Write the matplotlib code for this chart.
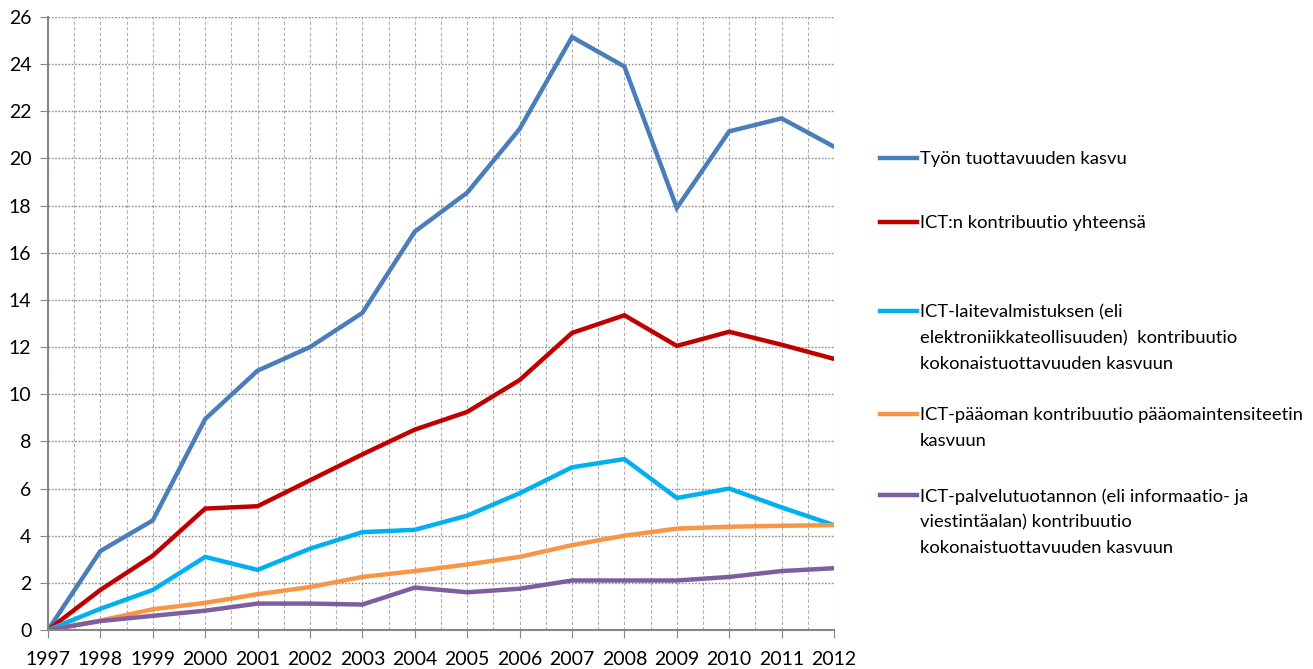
import numpy as np
import matplotlib.pyplot as plt
from matplotlib.lines import Line2D

plt.rcParams['font.family'] = ['Lato', 'DejaVu Sans']

years = list(range(1997, 2013))

tyon_tuottavuus = [0, 3.35, 4.65, 8.95, 11.0, 12.0, 13.45, 16.9, 18.55, 21.25,
                   25.15, 23.9, 17.9, 21.15, 21.7, 20.5]
ict_yhteensa = [0, 1.7, 3.15, 5.15, 5.25, 6.35, 7.45, 8.5, 9.25, 10.6,
                12.6, 13.35, 12.05, 12.65, 12.1, 11.5]
ict_laite = [0, 0.9, 1.7, 3.1, 2.55, 3.45, 4.15, 4.25, 4.85, 5.8,
             6.9, 7.25, 5.6, 6.0, 5.2, 4.45]
ict_paaoma = [0, 0.4, 0.88, 1.15, 1.52, 1.82, 2.25, 2.5, 2.78, 3.1,
              3.6, 4.0, 4.3, 4.38, 4.42, 4.45]
ict_palvelu = [0, 0.38, 0.6, 0.82, 1.12, 1.12, 1.08, 1.8, 1.6, 1.75,
               2.1, 2.1, 2.1, 2.25, 2.5, 2.62]

labels = [
    'Työn tuottavuuden kasvu',
    'ICT:n kontribuutio yhteensä',
    'ICT-laitevalmistuksen (eli\nelektroniikkateollisuuden)  kontribuutio\nkokonaistuottavuuden kasvuun',
    'ICT-pääoman kontribuutio pääomaintensiteetin\nkasvuun',
    'ICT-palvelutuotannon (eli informaatio- ja\nviestintäalan) kontribuutio\nkokonaistuottavuuden kasvuun',
]
series = [tyon_tuottavuus, ict_yhteensa, ict_laite, ict_paaoma, ict_palvelu]
colors = ['#4a7ebb', '#c00000', '#00b0f0', '#f79646', '#7d5fa0']
# legend first-line y positions (figure fraction)
legend_y = [1 - 158 / 669, 1 - 222 / 669, 1 - 311 / 669, 1 - 414 / 669, 1 - 495 / 669]

fig = plt.figure(figsize=(13.13, 6.69), dpi=100)
ax = fig.add_axes([48 / 1313, 39 / 669, 786 / 1313, 613 / 669])

for vals, c in zip(series, colors):
    ax.plot(years, vals, color=c, lw=3.2, solid_joinstyle='miter')

ax.set_xlim(1997, 2012)
ax.set_ylim(0, 26)
ax.set_xticks(years)
ax.set_yticks(np.arange(0, 27, 2))
ax.set_xticks(np.arange(1997.5, 2012, 1), minor=True)
ax.tick_params(axis='x', which='minor', length=0)
ax.tick_params(axis='both', which='major', length=6, color='#868686',
               labelsize=14, direction='out', pad=9)
ax.tick_params(axis='y', pad=6)

ax.grid(axis='y', which='major', color='#8c8c8c', ls=(0, (1.2, 1.2)), lw=1)
ax.grid(axis='x', which='both', color='#b0b0b0', ls=(0, (3, 2)), lw=0.8)
ax.set_axisbelow(True)

for s in ['top', 'right']:
    ax.spines[s].set_visible(False)
for s in ['left', 'bottom']:
    ax.spines[s].set_color('#868686')
    ax.spines[s].set_linewidth(1.5)

# manual legend
for lab, c, y in zip(labels, colors, legend_y):
    fig.add_artist(Line2D([880 / 1313, 917 / 1313], [y, y], color=c, lw=3.2,
                          transform=fig.transFigure))
    fig.text(920 / 1313, y + 7 / 669, lab, ha='left', va='top', fontsize=13.2,
             linespacing=1.75)

fig.savefig('out.png', dpi=100)
